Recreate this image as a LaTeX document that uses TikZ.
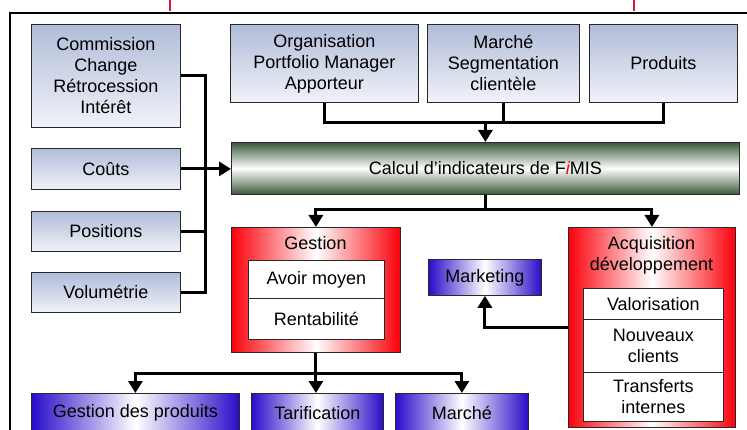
\documentclass[tikz,border=0pt]{standalone}
\usepackage{fontspec}
\setmainfont{Liberation Sans}
\usetikzlibrary{arrows.meta}
\definecolor{bordc}{RGB}{40,40,40}
\definecolor{gtop}{RGB}{176,188,216}
\definecolor{gbot}{RGB}{240,242,248}
\definecolor{gdark}{RGB}{58,88,58}
\definecolor{rboxc}{RGB}{250,0,10}
\definecolor{bboxc}{RGB}{40,12,200}
\definecolor{tickc}{RGB}{220,20,60}
\begin{document}
\begin{tikzpicture}[x=1pt,y=-1pt,
  txt/.style={font=\fontsize{18}{21}\selectfont, align=center, inner sep=0pt},
  graybox/.style={txt, draw=bordc, line width=0.8pt, top color=gtop, bottom color=gbot, anchor=north west},
  greenbox/.style={txt, draw=bordc, line width=0.8pt, top color=gdark, bottom color=gdark, middle color=white, anchor=north west},
  redbox/.style={draw=bordc, line width=0.8pt, left color=rboxc, right color=rboxc, middle color=white, anchor=north west, inner sep=0pt},
  bluebox/.style={txt, draw=bordc, line width=0.8pt, left color=bboxc, right color=bboxc, middle color=white, anchor=north west},
  whitebox/.style={txt, draw=bordc, line width=0.8pt, fill=white, anchor=north west},
  conn/.style={line width=3pt, draw=black},
  arr/.style={conn, -{Triangle[length=12pt,width=14pt]}},
  frame/.style={line width=2pt, draw=black},
  redtick/.style={line width=1.6pt, draw=tickc}
]
\clip (0,0) rectangle (747,430);
\fill[white] (0,0) rectangle (747,430);

% frame
\draw[frame] (10,440) -- (10,13) -- (760,13);
\draw[redtick] (170,0) -- (170,11);
\draw[redtick] (634,0) -- (634,11);

% left column
\node[graybox, minimum width=149pt, minimum height=103pt] (comm) at (31,24) {Commission\\Change\\Rétrocession\\Intérêt};
\node[graybox, minimum width=149pt, minimum height=41pt] (couts) at (31,148) {Coûts};
\node[graybox, minimum width=149pt, minimum height=40pt] (pos) at (31,211) {Positions};
\node[graybox, minimum width=149pt, minimum height=40pt] (vol) at (31,272) {Volumétrie};

% top row
\node[graybox, minimum width=188pt, minimum height=78pt] (org) at (230,24) {Organisation\\Portfolio Manager\\Apporteur};
\node[graybox, minimum width=152pt, minimum height=78pt] (mseg) at (427,24) {Marché\\Segmentation\\clientèle};
\node[graybox, minimum width=148pt, minimum height=78pt] (prod) at (589,24) {Produits};

% calcul
\node[greenbox, minimum width=508pt, minimum height=52pt] (calc) at (231,142) {Calcul d’indicateurs de F{\color{red}\itshape i}MIS};

% gestion
\node[redbox, minimum width=169pt, minimum height=125pt] (gest) at (231,227) {};
\node[txt] (gestl) at (315.5,243) {Gestion};
\node[whitebox, minimum width=136pt, minimum height=38pt] (avoir) at (248,260) {Avoir moyen};
\node[whitebox, minimum width=136pt, minimum height=41pt] (rent) at (248,298) {Rentabilité};

% acquisition
\node[redbox, minimum width=167pt, minimum height=200pt] (acq) at (568,227) {};
\node[txt] (acql) at (651.5,255) {Acquisition\\développement};
\node[whitebox, minimum width=140pt, minimum height=31pt] (valo) at (583,288) {Valorisation};
\node[whitebox, minimum width=140pt, minimum height=53pt] (nouv) at (583,319) {Nouveaux\\clients};
\node[whitebox, minimum width=140pt, minimum height=49pt] (trans) at (583,372) {Transferts\\internes};

% marketing
\node[bluebox, minimum width=113pt, minimum height=36pt] (mkt) at (428,259) {Marketing};

% bottom row
\node[bluebox, minimum width=208pt, minimum height=39pt] (gdp) at (31,393) {Gestion des produits};
\node[bluebox, minimum width=132pt, minimum height=39pt] (tarif) at (251,393) {Tarification};
\node[bluebox, minimum width=133pt, minimum height=39pt] (march) at (395,393) {Marché};

% helper coordinates
\coordinate (jx) at (205,0);
\coordinate (hy) at (0,123);
\coordinate (h2) at (0,210);
\coordinate (h3) at (0,373);
\coordinate (mky) at (0,328);

% left connectors
\draw[conn] (comm.east) -| (vol.east -| jx) -- (vol.east);
\draw[conn] (pos.east) -- (pos.east -| jx);
\draw[arr] (couts.east) -- (couts.east -| calc.west);

% top connectors
\draw[conn] (org.south) |- (prod.south |- hy) -- (prod.south);
\draw[conn] (mseg.south) -- (mseg.south |- hy);
\draw[arr] (calc.north |- hy) -- (calc.north);

% calc to gestion / acquisition
\draw[arr] (calc.south) -- (calc.south |- h2) -| (gest.north);
\draw[arr] (calc.south) -- (calc.south |- h2) -| (acq.north);

% gestion to bottom row
\draw[arr] (gest.south) -- (gest.south |- h3) -| (gdp.north);
\draw[arr] (gest.south) -- (gest.south |- h3) -| (march.north);
\draw[arr] (gest.south) -- (gest.south |- tarif.north);

% acquisition to marketing
\draw[arr] (acq.west |- mky) -| (mkt.south);
\end{tikzpicture}
\end{document}
